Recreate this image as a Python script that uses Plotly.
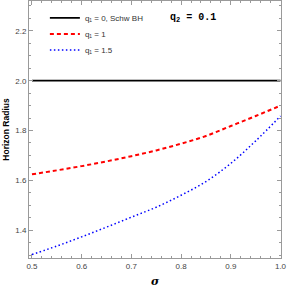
import plotly.graph_objects as go

sigma = [0.5, 0.55, 0.6, 0.65, 0.7, 0.75, 0.8, 0.85, 0.9, 0.95, 1.0]
r_q1_0 = [2.0] * len(sigma)
r_q1_1 = [1.624, 1.640, 1.657, 1.676, 1.697, 1.720, 1.747, 1.778, 1.818, 1.858, 1.900]
r_q1_15 = [1.302, 1.336, 1.373, 1.412, 1.452, 1.492, 1.540, 1.595, 1.668, 1.758, 1.858]

names = ["q₁ = 0, Schw BH", "q₁ = 1", "q₁ = 1.5"]
x_ticks = [0.5, 0.6, 0.7, 0.8, 0.9, 1.0]
y_ticks = [1.4, 1.6, 1.8, 2.0, 2.2]

fig = go.Figure()
fig.add_trace(go.Scatter(x=sigma, y=r_q1_0, mode="lines", name=names[0], legend="legend",
                         line=dict(color="black", width=1.8), line_shape="spline"))
fig.add_trace(go.Scatter(x=sigma, y=r_q1_1, mode="lines", name=names[1], legend="legend2",
                         line=dict(color="red", width=2, dash="4px,3px"), line_shape="spline"))
fig.add_trace(go.Scatter(x=sigma, y=r_q1_15, mode="lines", name=names[2], legend="legend3",
                         line=dict(color="blue", width=1.5, dash="1.5px,2.5px"), line_shape="spline"))

axis_common = dict(
    showline=True, linecolor="#9a9a9a", linewidth=1, mirror="ticks",
    ticks="inside", ticklen=4, tickcolor="#9a9a9a", tickwidth=1,
    showgrid=False, zeroline=False, automargin=False,
    tickfont=dict(family="Liberation Sans", size=8, color="#444444"),
)

fig.update_xaxes(range=[0.494, 1.001], tickvals=x_ticks, ticktext=[f"{v:.1f}" for v in x_ticks],
                 minor=dict(ticks="inside", ticklen=2, dtick=0.02, tick0=0.5, tickcolor="#9a9a9a"),
                 **axis_common)
fig.update_yaxes(range=[1.288, 2.32], tickvals=y_ticks, ticktext=[f"{v:.1f}" for v in y_ticks],
                 minor=dict(ticks="inside", ticklen=2, dtick=0.05, tick0=1.3, tickcolor="#9a9a9a"),
                 title=dict(text="<b>Horizon Radius</b>", font=dict(family="Liberation Sans", size=8.5, color="black"), standoff=4),
                 **axis_common)

fig.add_annotation(x=0.5, y=-0.093, xref="paper", yref="paper", showarrow=False,
                   xanchor="center", yanchor="middle",
                   text="<b><i>σ</i></b>",
                   font=dict(family="DejaVu Serif", size=11, color="black"))

fig.add_annotation(x=0.652, y=0.935, xref="paper", yref="paper", showarrow=False,
                   xanchor="center", yanchor="middle",
                   text="<b>q<sub>2</sub> = 0.1</b>",
                   font=dict(family="Liberation Mono", size=10, color="black"))

legend_style = dict(xanchor="left", yanchor="middle", bgcolor="rgba(0,0,0,0)",
                    font=dict(family="Liberation Sans", size=8, color="#333333"),
                    itemwidth=30)

fig.update_layout(
    width=288, height=287,
    margin=dict(l=29, r=7, t=1, b=29),
    paper_bgcolor="white", plot_bgcolor="white",
    showlegend=True,
    legend=dict(x=0.063, y=0.934, **legend_style),
    legend2=dict(x=0.063, y=0.872, **legend_style),
    legend3=dict(x=0.063, y=0.809, **legend_style),
)

fig.write_html("out.html", config={"displayModeBar": False},
               post_script="document.body.style.margin='0';document.body.style.overflow='hidden';")
